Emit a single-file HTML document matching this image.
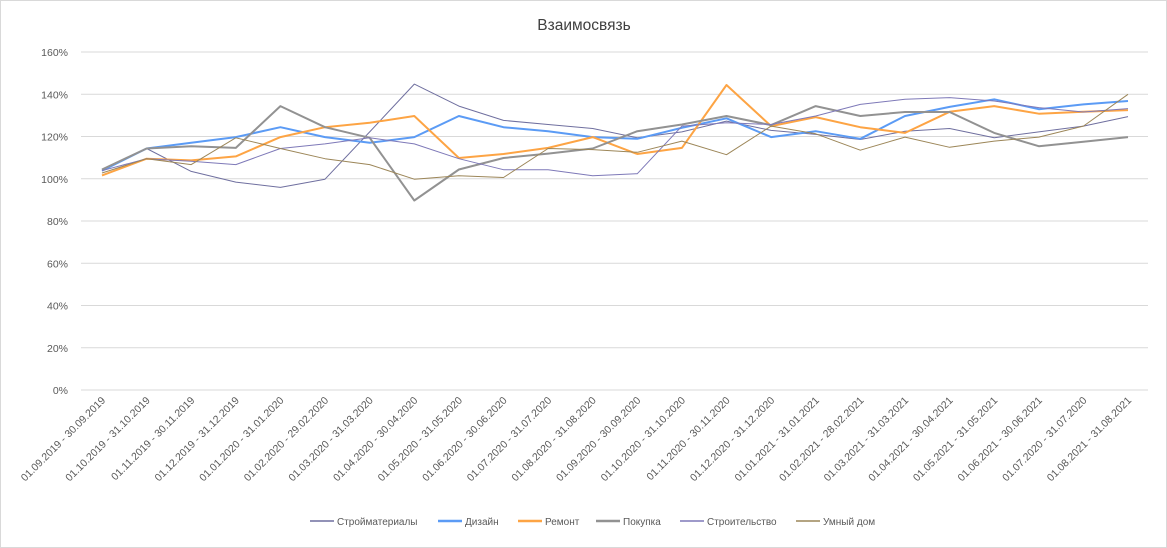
<!DOCTYPE html>
<html><head><meta charset="utf-8"><style>
body{margin:0;background:#fff;font-family:"Liberation Sans","DejaVu Sans",sans-serif;}
#wrap{position:relative;width:1165px;height:546px;border:1px solid #d9d9d9;background:#fff;overflow:hidden}
svg text{font-family:"Liberation Sans","DejaVu Sans",sans-serif;}
</style></head><body>
<div id="wrap">
<svg id="chart" width="1167" height="548"></svg>
</div>
<script>
const categories=["01.09.2019 - 30.09.2019","01.10.2019 - 31.10.2019","01.11.2019 - 30.11.2019","01.12.2019 - 31.12.2019","01.01.2020 - 31.01.2020","01.02.2020 - 29.02.2020","01.03.2020 - 31.03.2020","01.04.2020 - 30.04.2020","01.05.2020 - 31.05.2020","01.06.2020 - 30.06.2020","01.07.2020 - 31.07.2020","01.08.2020 - 31.08.2020","01.09.2020 - 30.09.2020","01.10.2020 - 31.10.2020","01.11.2020 - 30.11.2020","01.12.2020 - 31.12.2020","01.01.2021 - 31.01.2021","01.02.2021 - 28.02.2021","01.03.2021 - 31.03.2021","01.04.2021 - 30.04.2021","01.05.2021 - 31.05.2021","01.06.2021 - 30.06.2021","01.07.2020 - 31.07.2020","01.08.2021 - 31.08.2021"];
const seriesNames=["Стройматериалы","Дизайн","Ремонт","Покупка","Строительство","Умный дом"];
const stroymaterialy=[103.8,114.3,103.5,98.4,95.9,99.8,122.2,144.8,134.4,127.6,125.7,123.8,119.4,122.2,127.3,122.9,121,118.6,122.5,123.8,119.4,122.2,124.9,129.4];
const dizain=[103.8,114.3,117,119.7,124.4,119.7,117,119.7,129.7,124.4,122.5,119.7,118.9,124.1,128.6,119.7,122.5,118.9,129.7,134,137.6,132.9,135.2,136.8];
const remont=[101.6,109.5,108.7,110.6,119.7,124.4,126.5,129.7,109.8,111.7,114.6,119.7,111.7,114.6,144.4,124.9,129.2,124.4,121.7,131.7,134.4,130.8,131.7,132.5];
const pokupka=[104.4,114.3,115.4,114.6,134.4,124.4,119.4,89.7,104.4,109.8,111.9,114.3,122.5,125.7,129.7,125.4,134.4,129.7,131.6,131.6,121.7,115.4,117.5,119.7];
const stroitelstvo=[103.8,109.5,108.3,106.7,114.3,116.5,119.4,116.5,109.5,104.3,104.3,101.4,102.4,124.9,126.5,125.7,129.7,135.2,137.6,138.4,136.8,133.7,131.6,133.2];
const umnyDom=[102.7,109.5,106.7,119.4,114.3,109.5,106.7,99.8,101.4,100.6,114.3,113.8,112.5,117.8,111.4,124.9,121.3,113.5,119.7,114.9,117.8,119.7,124.9,140];
const yTicks=[0,20,40,60,80,100,120,140,160];
const allSeries=[stroymaterialy,dizain,remont,pokupka,stroitelstvo,umnyDom];
const colors=["#6f6f9f","#5b9bf5","#fda444","#929292","#7e79b8","#9c8658"];
const widths=[1,2,2,2,1,1];
const NS="http://www.w3.org/2000/svg";
const svg=document.getElementById('chart');
const x0=101,x1=1127,yBase=389,yTop=51,left=80,right=1147;
function xs(i){return x0+(x1-x0)*i/(categories.length-1);}
function ys(v){return yBase-(yBase-yTop)*v/160;}
function mk(t,a){const e=document.createElementNS(NS,t);for(const k in a)e.setAttribute(k,a[k]);svg.appendChild(e);return e;}
const title=mk('text',{x:583,y:29,'text-anchor':'middle','font-size':'15.5',fill:'#404040'});
title.textContent="Взаимосвязь";


yTicks.forEach(v=>{
 const g=mk('line',{x1:left,x2:right,y1:ys(v),y2:ys(v),stroke:'#d9d9d9','stroke-width':1});
 
 
 const t=mk('text',{x:67,y:ys(v)+4,'text-anchor':'end','font-size':'10.5',fill:'#595959'});
 t.textContent=v+'%';
 
 
});
categories.forEach((c,i)=>{
 const t=mk('text',{x:xs(i)+4,y:400,'text-anchor':'end','font-size':'10.5',fill:'#595959',transform:`rotate(-45 ${xs(i)+4} 400)`});
 t.textContent=c;
 
 
});
allSeries.forEach((s,k)=>{
 const p=mk('polyline',{points:s.map((v,i)=>xs(i).toFixed(1)+','+ys(v).toFixed(1)).join(' '),fill:'none',stroke:colors[k],'stroke-width':widths[k],'stroke-linejoin':'round'});
 
 
});
const legX=[309,437,517,595,679,795];
seriesNames.forEach((n,k)=>{
 const l=mk('line',{x1:legX[k],x2:legX[k]+24,y1:520,y2:520,stroke:colors[k],'stroke-width':widths[k]+0.5});
 
 
 const t=mk('text',{x:legX[k]+27,y:524,'font-size':'10','textLength':'','fill':'#595959'});
 t.removeAttribute('textLength');
 t.textContent=n;
 
 
});
</script>
</body></html>
